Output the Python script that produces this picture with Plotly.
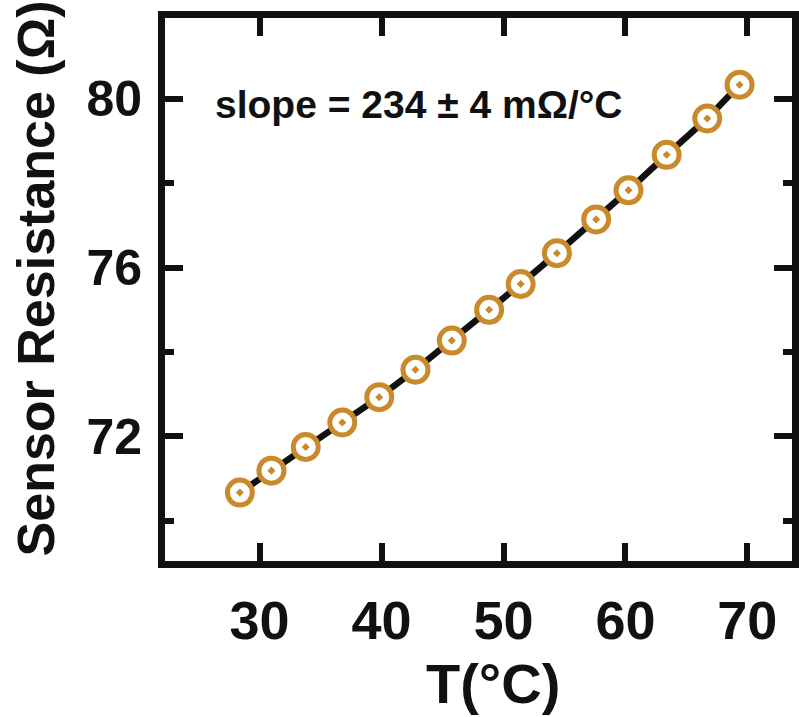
import plotly.graph_objects as go

# Data
temp_c = [28.38, 30.97, 33.78, 36.78, 39.81, 42.78, 45.76, 48.82, 51.41, 54.38,
          57.60, 60.25, 63.38, 66.71, 69.36]
resistance = [70.67, 71.19, 71.75, 72.33, 72.93, 73.58, 74.27, 75.00, 75.61, 76.34,
              77.14, 77.83, 78.67, 79.53, 80.33]
x_ticks = [30, 40, 50, 60, 70]
y_ticks = [72, 76, 80]
y_minor_ticks = [70, 74, 78]
slope_text = "slope = 234 ± 4 mΩ/°C"

W, H = 799, 717
L, R, T, B = 165, 0, 18, 156
FONT = "Liberation Sans, Arial, Helvetica, sans-serif"
ORANGE = "#C98A2C"
INK = "#111111"

fig = go.Figure()
fig.add_trace(go.Scatter(x=temp_c, y=resistance, mode="lines+markers",
                         line=dict(color=INK, width=6.5),
                         marker=dict(symbol="circle-dot", size=25, color="white",
                                     line=dict(color=ORANGE, width=5)),
                         showlegend=False))

axis_common = dict(showline=True, linecolor=INK, linewidth=7, mirror="allticks",
                   ticks="inside", tickcolor=INK, tickwidth=6, ticklen=18,
                   showgrid=False, zeroline=False)

fig.update_xaxes(range=[22.24, 73.66], tickvals=x_ticks,
                 tickfont=dict(family=FONT, size=54, color=INK, weight="bold"),
                 ticklabelstandoff=6, **axis_common)
fig.update_yaxes(range=[69.05, 81.91], tickvals=y_ticks,
                 tickfont=dict(family=FONT, size=50, color=INK, weight="bold"),
                 ticklabelstandoff=6,
                 minor=dict(tickvals=y_minor_ticks, ticks="inside", ticklen=9, tickwidth=6,
                            tickcolor=INK),
                 **axis_common)

pw = W - L - R
ph = H - T - B
def px(xp):
    return (xp - L) / pw
def py(yp):
    return (H - B - yp) / ph

fig.add_annotation(text=slope_text, x=px(422), y=py(104), xref="paper", yref="paper",
                   xanchor="center", yanchor="middle", showarrow=False,
                   font=dict(family=FONT, size=39, color=INK, weight="bold"))
fig.add_annotation(text="T(°C)", x=px(497), y=py(683), xref="paper", yref="paper",
                   xanchor="center", yanchor="middle", showarrow=False, borderpad=0,
                   font=dict(family=FONT, size=56, color=INK, weight="bold"))
fig.add_annotation(text="Sensor Resistance (Ω)", x=px(35), y=py(278), xref="paper", yref="paper",
                   xanchor="center", yanchor="middle", showarrow=False, textangle=-90,
                   font=dict(family=FONT, size=52, color=INK, weight="bold"))

fig.update_layout(width=W, height=H, margin=dict(l=L, r=R, t=T, b=B, pad=0),
                  plot_bgcolor="white", paper_bgcolor="white")
fig.write_html("out.html")
